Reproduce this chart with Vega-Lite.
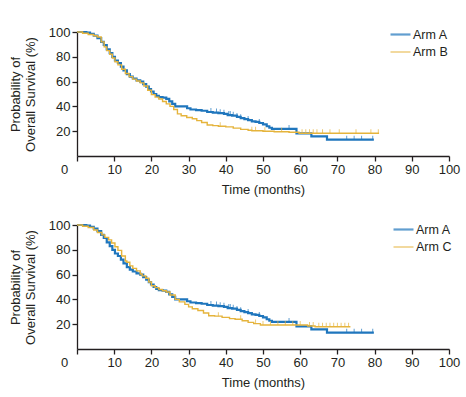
{
  "$schema": "https://vega.github.io/schema/vega-lite/v6.json",
  "padding": {"left": 9, "top": 23, "right": 5, "bottom": 5},
  "background": "white",
  "config": {
    "font": "Liberation Sans",
    "view": {"stroke": null},
    "axis": {
      "grid": false,
      "domainColor": "#231f20",
      "tickColor": "#231f20",
      "labelColor": "#231f20",
      "titleColor": "#231f20",
      "labelFontSize": 13,
      "titleFontSize": 13,
      "titleFontWeight": "normal",
      "tickSize": 5,
      "labelPadding": 2,
      "labelOverlap": false,
      "labelFlush": false,
      "domainWidth": 1.3,
      "tickWidth": 1.3
    },
    "legend": {
      "title": null,
      "orient": "none",
      "symbolType": "stroke",
      "symbolSize": 400,
      "labelFontSize": 12.5,
      "labelColor": "#231f20",
      "labelOffset": 1,
      "rowPadding": -3
    }
  },
  "datasets": {
    "topLines": [
      {"arm": "Arm A", "t": 0, "s": 100}, {"arm": "Arm A", "t": 2.5, "s": 99.5}, {"arm": "Arm A", "t": 3.5, "s": 98.5}, {"arm": "Arm A", "t": 4.5, "s": 97}, {"arm": "Arm A", "t": 5.5, "s": 95}, {"arm": "Arm A", "t": 6.5, "s": 92}, {"arm": "Arm A", "t": 7.2, "s": 89.5}, {"arm": "Arm A", "t": 8, "s": 86}, {"arm": "Arm A", "t": 8.8, "s": 83}, {"arm": "Arm A", "t": 9.5, "s": 80}, {"arm": "Arm A", "t": 10.2, "s": 77}, {"arm": "Arm A", "t": 11, "s": 75}, {"arm": "Arm A", "t": 11.8, "s": 72}, {"arm": "Arm A", "t": 12.5, "s": 69}, {"arm": "Arm A", "t": 13.4, "s": 66}, {"arm": "Arm A", "t": 14.2, "s": 64}, {"arm": "Arm A", "t": 15, "s": 62.5}, {"arm": "Arm A", "t": 16, "s": 61}, {"arm": "Arm A", "t": 17, "s": 60}, {"arm": "Arm A", "t": 17.8, "s": 58}, {"arm": "Arm A", "t": 18.6, "s": 56}, {"arm": "Arm A", "t": 19.3, "s": 54}, {"arm": "Arm A", "t": 19.9, "s": 52}, {"arm": "Arm A", "t": 20.6, "s": 50}, {"arm": "Arm A", "t": 21.3, "s": 48.5}, {"arm": "Arm A", "t": 22, "s": 47.5}, {"arm": "Arm A", "t": 23, "s": 47}, {"arm": "Arm A", "t": 24, "s": 46}, {"arm": "Arm A", "t": 24.8, "s": 44}, {"arm": "Arm A", "t": 25.6, "s": 42}, {"arm": "Arm A", "t": 26.4, "s": 40}, {"arm": "Arm A", "t": 29.6, "s": 38.5}, {"arm": "Arm A", "t": 30.5, "s": 37.5}, {"arm": "Arm A", "t": 32, "s": 37}, {"arm": "Arm A", "t": 33.5, "s": 36.5}, {"arm": "Arm A", "t": 35, "s": 35.5}, {"arm": "Arm A", "t": 36.5, "s": 35}, {"arm": "Arm A", "t": 38, "s": 34.5}, {"arm": "Arm A", "t": 39.5, "s": 34}, {"arm": "Arm A", "t": 40.5, "s": 33}, {"arm": "Arm A", "t": 41.7, "s": 32.5}, {"arm": "Arm A", "t": 43, "s": 31.5}, {"arm": "Arm A", "t": 44, "s": 30.5}, {"arm": "Arm A", "t": 45, "s": 29.8}, {"arm": "Arm A", "t": 46, "s": 29}, {"arm": "Arm A", "t": 47, "s": 28}, {"arm": "Arm A", "t": 48, "s": 27.5}, {"arm": "Arm A", "t": 49, "s": 26.6}, {"arm": "Arm A", "t": 50, "s": 25.5}, {"arm": "Arm A", "t": 51, "s": 24}, {"arm": "Arm A", "t": 51.7, "s": 22.8}, {"arm": "Arm A", "t": 52.4, "s": 21.8}, {"arm": "Arm A", "t": 59, "s": 18.3}, {"arm": "Arm A", "t": 63, "s": 15.9}, {"arm": "Arm A", "t": 67.2, "s": 13.2}, {"arm": "Arm A", "t": 79.8, "s": 13.2},
      {"arm": "Arm B", "t": 0, "s": 100}, {"arm": "Arm B", "t": 1.5, "s": 99}, {"arm": "Arm B", "t": 3, "s": 98}, {"arm": "Arm B", "t": 4.5, "s": 97}, {"arm": "Arm B", "t": 5.5, "s": 96}, {"arm": "Arm B", "t": 6.5, "s": 92}, {"arm": "Arm B", "t": 7.3, "s": 88}, {"arm": "Arm B", "t": 8, "s": 85}, {"arm": "Arm B", "t": 8.8, "s": 82}, {"arm": "Arm B", "t": 9.5, "s": 79}, {"arm": "Arm B", "t": 10.2, "s": 76}, {"arm": "Arm B", "t": 11, "s": 73.5}, {"arm": "Arm B", "t": 12, "s": 70}, {"arm": "Arm B", "t": 13, "s": 66.5}, {"arm": "Arm B", "t": 14, "s": 64}, {"arm": "Arm B", "t": 15, "s": 62}, {"arm": "Arm B", "t": 16, "s": 60.5}, {"arm": "Arm B", "t": 17, "s": 59}, {"arm": "Arm B", "t": 18, "s": 56.5}, {"arm": "Arm B", "t": 19, "s": 53}, {"arm": "Arm B", "t": 20, "s": 49.5}, {"arm": "Arm B", "t": 21, "s": 47.5}, {"arm": "Arm B", "t": 22, "s": 46}, {"arm": "Arm B", "t": 23, "s": 44}, {"arm": "Arm B", "t": 24, "s": 42}, {"arm": "Arm B", "t": 25, "s": 40}, {"arm": "Arm B", "t": 26, "s": 37.5}, {"arm": "Arm B", "t": 27, "s": 34}, {"arm": "Arm B", "t": 28, "s": 32.5}, {"arm": "Arm B", "t": 29.5, "s": 31}, {"arm": "Arm B", "t": 31, "s": 30}, {"arm": "Arm B", "t": 32.2, "s": 28.5}, {"arm": "Arm B", "t": 33.5, "s": 27}, {"arm": "Arm B", "t": 35, "s": 25}, {"arm": "Arm B", "t": 36.5, "s": 24.5}, {"arm": "Arm B", "t": 38, "s": 24}, {"arm": "Arm B", "t": 40, "s": 23.5}, {"arm": "Arm B", "t": 42, "s": 22.5}, {"arm": "Arm B", "t": 44, "s": 21.5}, {"arm": "Arm B", "t": 46, "s": 20.8}, {"arm": "Arm B", "t": 47, "s": 20.4}, {"arm": "Arm B", "t": 50, "s": 20}, {"arm": "Arm B", "t": 53, "s": 19.5}, {"arm": "Arm B", "t": 57, "s": 19.1}, {"arm": "Arm B", "t": 59.7, "s": 18.3}, {"arm": "Arm B", "t": 81.2, "s": 18.3}
    ],
    "topCens": [
      {"arm": "Arm A", "t": 36, "s": 35.5}, {"arm": "Arm A", "t": 37.5, "s": 35}, {"arm": "Arm A", "t": 38.5, "s": 34.5}, {"arm": "Arm A", "t": 39.5, "s": 34}, {"arm": "Arm A", "t": 40.8, "s": 33}, {"arm": "Arm A", "t": 41.2, "s": 33}, {"arm": "Arm A", "t": 42, "s": 32.5}, {"arm": "Arm A", "t": 43, "s": 31.5}, {"arm": "Arm A", "t": 44, "s": 30.5}, {"arm": "Arm A", "t": 46, "s": 29}, {"arm": "Arm A", "t": 49, "s": 26.6}, {"arm": "Arm A", "t": 57, "s": 21.8}, {"arm": "Arm A", "t": 72.5, "s": 13.2}, {"arm": "Arm A", "t": 74.5, "s": 13.2}, {"arm": "Arm A", "t": 76.5, "s": 13.2}, {"arm": "Arm A", "t": 79.5, "s": 13.2},
      {"arm": "Arm B", "t": 38.5, "s": 24}, {"arm": "Arm B", "t": 47, "s": 20.4}, {"arm": "Arm B", "t": 48, "s": 20.4}, {"arm": "Arm B", "t": 50.5, "s": 20}, {"arm": "Arm B", "t": 55, "s": 19.5}, {"arm": "Arm B", "t": 60.5, "s": 18.3}, {"arm": "Arm B", "t": 61.5, "s": 18.3}, {"arm": "Arm B", "t": 62.5, "s": 18.3}, {"arm": "Arm B", "t": 63.5, "s": 18.3}, {"arm": "Arm B", "t": 64.5, "s": 18.3}, {"arm": "Arm B", "t": 66, "s": 18.3}, {"arm": "Arm B", "t": 68, "s": 18.3}, {"arm": "Arm B", "t": 70.5, "s": 18.3}, {"arm": "Arm B", "t": 75, "s": 18.3}, {"arm": "Arm B", "t": 79, "s": 18.3}, {"arm": "Arm B", "t": 81, "s": 18.3}
    ],
    "bottomLines": [
      {"arm": "Arm A", "t": 0, "s": 100}, {"arm": "Arm A", "t": 2.5, "s": 99.5}, {"arm": "Arm A", "t": 3.5, "s": 98.5}, {"arm": "Arm A", "t": 4.5, "s": 97}, {"arm": "Arm A", "t": 5.5, "s": 95}, {"arm": "Arm A", "t": 6.5, "s": 92}, {"arm": "Arm A", "t": 7.2, "s": 89.5}, {"arm": "Arm A", "t": 8, "s": 86}, {"arm": "Arm A", "t": 8.8, "s": 83}, {"arm": "Arm A", "t": 9.5, "s": 80}, {"arm": "Arm A", "t": 10.2, "s": 77}, {"arm": "Arm A", "t": 11, "s": 75}, {"arm": "Arm A", "t": 11.8, "s": 72}, {"arm": "Arm A", "t": 12.5, "s": 69}, {"arm": "Arm A", "t": 13.4, "s": 66}, {"arm": "Arm A", "t": 14.2, "s": 64}, {"arm": "Arm A", "t": 15, "s": 62.5}, {"arm": "Arm A", "t": 16, "s": 61}, {"arm": "Arm A", "t": 17, "s": 60}, {"arm": "Arm A", "t": 17.8, "s": 58}, {"arm": "Arm A", "t": 18.6, "s": 56}, {"arm": "Arm A", "t": 19.3, "s": 54}, {"arm": "Arm A", "t": 19.9, "s": 52}, {"arm": "Arm A", "t": 20.6, "s": 50}, {"arm": "Arm A", "t": 21.3, "s": 48.5}, {"arm": "Arm A", "t": 22, "s": 47.5}, {"arm": "Arm A", "t": 23, "s": 47}, {"arm": "Arm A", "t": 24, "s": 46}, {"arm": "Arm A", "t": 24.8, "s": 44}, {"arm": "Arm A", "t": 25.6, "s": 42}, {"arm": "Arm A", "t": 26.4, "s": 40}, {"arm": "Arm A", "t": 29.6, "s": 38.5}, {"arm": "Arm A", "t": 30.5, "s": 37.5}, {"arm": "Arm A", "t": 32, "s": 37}, {"arm": "Arm A", "t": 33.5, "s": 36.5}, {"arm": "Arm A", "t": 35, "s": 35.5}, {"arm": "Arm A", "t": 36.5, "s": 35}, {"arm": "Arm A", "t": 38, "s": 34.5}, {"arm": "Arm A", "t": 39.5, "s": 34}, {"arm": "Arm A", "t": 40.5, "s": 33}, {"arm": "Arm A", "t": 41.7, "s": 32.5}, {"arm": "Arm A", "t": 43, "s": 31.5}, {"arm": "Arm A", "t": 44, "s": 30.5}, {"arm": "Arm A", "t": 45, "s": 29.8}, {"arm": "Arm A", "t": 46, "s": 29}, {"arm": "Arm A", "t": 47, "s": 28}, {"arm": "Arm A", "t": 48, "s": 27.5}, {"arm": "Arm A", "t": 49, "s": 26.6}, {"arm": "Arm A", "t": 50, "s": 25.5}, {"arm": "Arm A", "t": 51, "s": 24}, {"arm": "Arm A", "t": 51.7, "s": 22.8}, {"arm": "Arm A", "t": 52.4, "s": 21.8}, {"arm": "Arm A", "t": 59, "s": 18.3}, {"arm": "Arm A", "t": 63, "s": 15.9}, {"arm": "Arm A", "t": 67.2, "s": 13.2}, {"arm": "Arm A", "t": 79.8, "s": 13.2},
      {"arm": "Arm C", "t": 0, "s": 100}, {"arm": "Arm C", "t": 1.5, "s": 99}, {"arm": "Arm C", "t": 3, "s": 98}, {"arm": "Arm C", "t": 4.5, "s": 96}, {"arm": "Arm C", "t": 5.5, "s": 94}, {"arm": "Arm C", "t": 6.7, "s": 92}, {"arm": "Arm C", "t": 7.5, "s": 90}, {"arm": "Arm C", "t": 8.5, "s": 88}, {"arm": "Arm C", "t": 9.3, "s": 85.5}, {"arm": "Arm C", "t": 10.2, "s": 82.4}, {"arm": "Arm C", "t": 11, "s": 79.5}, {"arm": "Arm C", "t": 12, "s": 75}, {"arm": "Arm C", "t": 13, "s": 71}, {"arm": "Arm C", "t": 13.4, "s": 70}, {"arm": "Arm C", "t": 14.2, "s": 67}, {"arm": "Arm C", "t": 15, "s": 65}, {"arm": "Arm C", "t": 16, "s": 63}, {"arm": "Arm C", "t": 17, "s": 60.5}, {"arm": "Arm C", "t": 17.5, "s": 59}, {"arm": "Arm C", "t": 18.5, "s": 57}, {"arm": "Arm C", "t": 19.3, "s": 54}, {"arm": "Arm C", "t": 20, "s": 51}, {"arm": "Arm C", "t": 21, "s": 49.5}, {"arm": "Arm C", "t": 22, "s": 48}, {"arm": "Arm C", "t": 23, "s": 47}, {"arm": "Arm C", "t": 24, "s": 46}, {"arm": "Arm C", "t": 25, "s": 43.5}, {"arm": "Arm C", "t": 26.4, "s": 40}, {"arm": "Arm C", "t": 27.5, "s": 38}, {"arm": "Arm C", "t": 29, "s": 36}, {"arm": "Arm C", "t": 30, "s": 34}, {"arm": "Arm C", "t": 31, "s": 32.5}, {"arm": "Arm C", "t": 32.5, "s": 31}, {"arm": "Arm C", "t": 34, "s": 29}, {"arm": "Arm C", "t": 35.4, "s": 26.8}, {"arm": "Arm C", "t": 37, "s": 26.5}, {"arm": "Arm C", "t": 39, "s": 25.5}, {"arm": "Arm C", "t": 41, "s": 24.5}, {"arm": "Arm C", "t": 42.5, "s": 24}, {"arm": "Arm C", "t": 44.4, "s": 22.8}, {"arm": "Arm C", "t": 46, "s": 21.5}, {"arm": "Arm C", "t": 47.5, "s": 20.5}, {"arm": "Arm C", "t": 49.3, "s": 19.3}, {"arm": "Arm C", "t": 62, "s": 18.5}, {"arm": "Arm C", "t": 64, "s": 18}, {"arm": "Arm C", "t": 73.5, "s": 18}
    ],
    "bottomCens": [
      {"arm": "Arm A", "t": 36, "s": 35.5}, {"arm": "Arm A", "t": 37.5, "s": 35}, {"arm": "Arm A", "t": 38.5, "s": 34.5}, {"arm": "Arm A", "t": 39.5, "s": 34}, {"arm": "Arm A", "t": 40.8, "s": 33}, {"arm": "Arm A", "t": 41.2, "s": 33}, {"arm": "Arm A", "t": 42, "s": 32.5}, {"arm": "Arm A", "t": 43, "s": 31.5}, {"arm": "Arm A", "t": 44, "s": 30.5}, {"arm": "Arm A", "t": 46, "s": 29}, {"arm": "Arm A", "t": 49, "s": 26.6}, {"arm": "Arm A", "t": 57, "s": 21.8}, {"arm": "Arm A", "t": 72.5, "s": 13.2}, {"arm": "Arm A", "t": 74.5, "s": 13.2}, {"arm": "Arm A", "t": 76.5, "s": 13.2}, {"arm": "Arm A", "t": 79.5, "s": 13.2},
      {"arm": "Arm C", "t": 38, "s": 26.5}, {"arm": "Arm C", "t": 44, "s": 24}, {"arm": "Arm C", "t": 48, "s": 20.5}, {"arm": "Arm C", "t": 50, "s": 19.3}, {"arm": "Arm C", "t": 52, "s": 19.3}, {"arm": "Arm C", "t": 54, "s": 19.3}, {"arm": "Arm C", "t": 56, "s": 19.3}, {"arm": "Arm C", "t": 58, "s": 19.3}, {"arm": "Arm C", "t": 60, "s": 19.3}, {"arm": "Arm C", "t": 62.5, "s": 18.5}, {"arm": "Arm C", "t": 63.5, "s": 18.5}, {"arm": "Arm C", "t": 65, "s": 18}, {"arm": "Arm C", "t": 66, "s": 18}, {"arm": "Arm C", "t": 67, "s": 18}, {"arm": "Arm C", "t": 68, "s": 18}, {"arm": "Arm C", "t": 69, "s": 18}, {"arm": "Arm C", "t": 70, "s": 18}, {"arm": "Arm C", "t": 71, "s": 18}, {"arm": "Arm C", "t": 72, "s": 18}, {"arm": "Arm C", "t": 73, "s": 18}
    ]
  },
  "spacing": 22,
  "resolve": {"scale": {"color": "independent", "strokeWidth": "independent"}, "legend": {"color": "independent", "strokeWidth": "independent"}},
  "vconcat": [
    {
      "width": 372,
      "height": 124,
      "layer": [
        {
          "data": {"name": "topLines"},
          "mark": {"type": "line", "interpolate": "step-after"},
          "encoding": {
            "x": {"field": "t", "type": "quantitative", "scale": {"domain": [0, 100], "nice": false},
              "axis": {"title": "Time (months)", "values": [0, 10, 20, 30, 40, 50, 60, 70, 80, 90, 100], "tickCount": 20, "labelOverlap": false, "labelFlush": false, "titlePadding": 7, "labelOffset": {"condition": {"test": "datum.value === 0", "value": -13}, "value": 0}}},
            "y": {"field": "s", "type": "quantitative", "scale": {"domain": [0, 100], "nice": false},
              "axis": {"title": ["Probability of", "Overall Survival (%)"], "values": [20, 40, 60, 80, 100], "tickCount": 20, "labelOverlap": false, "labelFlush": false, "titlePadding": 11, "titleLineHeight": 15}},
            "color": {"field": "arm", "type": "nominal", "title": null, "scale": {"domain": ["Arm A", "Arm B"], "range": ["#1f76bd", "#e5b43c"]}, "legend": {"legendX": 312, "legendY": -9}},
            "strokeWidth": {"field": "arm", "type": "nominal", "title": null, "scale": {"domain": ["Arm A", "Arm B"], "range": [2.2, 1.4]}, "legend": {"legendX": 312, "legendY": -9}}
          }
        },
        {
          "data": {"name": "topCens"},
          "mark": {"type": "tick", "orient": "vertical", "size": 4, "thickness": 1, "yOffset": -2},
          "encoding": {
            "x": {"field": "t", "type": "quantitative"},
            "y": {"field": "s", "type": "quantitative"},
            "color": {"field": "arm", "type": "nominal", "title": null}
          }
        }
      ]
    },
    {
      "width": 372,
      "height": 124,
      "layer": [
        {
          "data": {"name": "bottomLines"},
          "mark": {"type": "line", "interpolate": "step-after"},
          "encoding": {
            "x": {"field": "t", "type": "quantitative", "scale": {"domain": [0, 100], "nice": false},
              "axis": {"title": "Time (months)", "values": [0, 10, 20, 30, 40, 50, 60, 70, 80, 90, 100], "tickCount": 20, "labelOverlap": false, "labelFlush": false, "titlePadding": 7, "labelOffset": {"condition": {"test": "datum.value === 0", "value": -13}, "value": 0}}},
            "y": {"field": "s", "type": "quantitative", "scale": {"domain": [0, 100], "nice": false},
              "axis": {"title": ["Probability of", "Overall Survival (%)"], "values": [20, 40, 60, 80, 100], "tickCount": 20, "labelOverlap": false, "labelFlush": false, "titlePadding": 11, "titleLineHeight": 15}},
            "color": {"field": "arm", "type": "nominal", "title": null, "scale": {"domain": ["Arm A", "Arm C"], "range": ["#1f76bd", "#e5b43c"]}, "legend": {"legendX": 315, "legendY": -7}},
            "strokeWidth": {"field": "arm", "type": "nominal", "title": null, "scale": {"domain": ["Arm A", "Arm C"], "range": [2.2, 1.4]}, "legend": {"legendX": 315, "legendY": -7}}
          }
        },
        {
          "data": {"name": "bottomCens"},
          "mark": {"type": "tick", "orient": "vertical", "size": 4, "thickness": 1, "yOffset": -2},
          "encoding": {
            "x": {"field": "t", "type": "quantitative"},
            "y": {"field": "s", "type": "quantitative"},
            "color": {"field": "arm", "type": "nominal", "title": null}
          }
        }
      ]
    }
  ]
}
